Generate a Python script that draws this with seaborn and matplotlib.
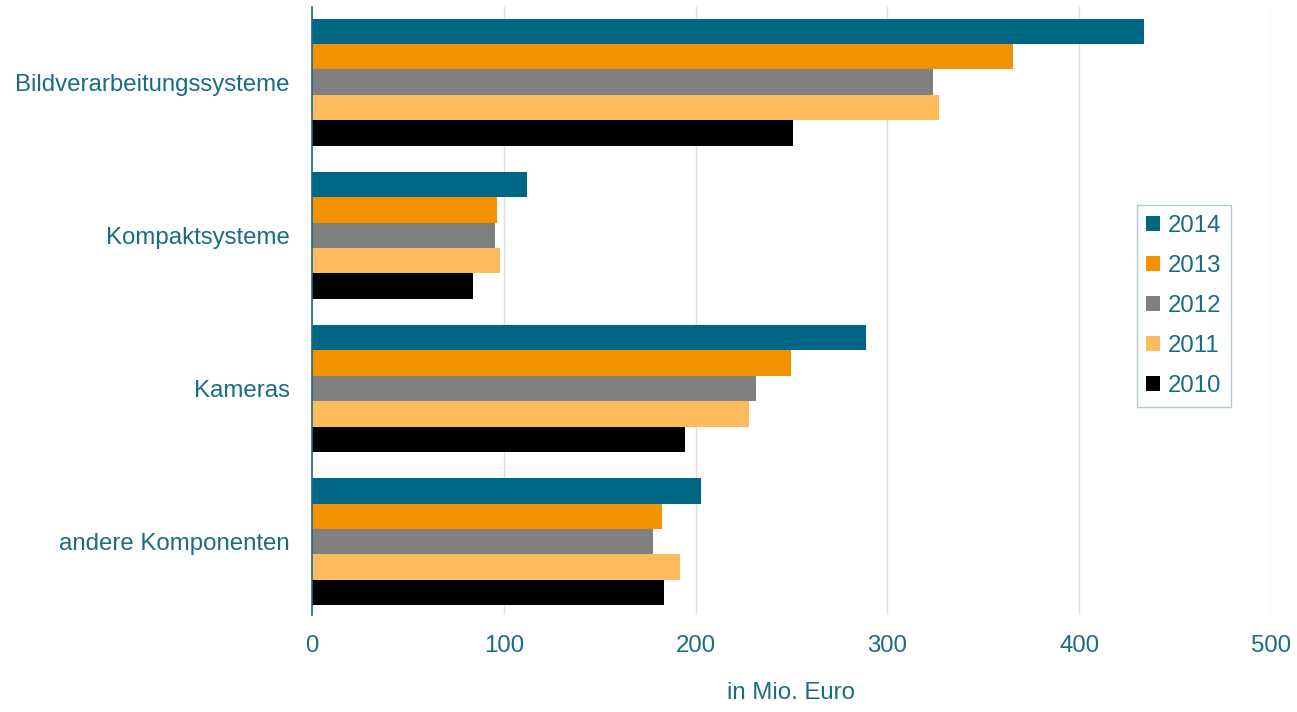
import matplotlib
matplotlib.use("Agg")
import matplotlib.pyplot as plt
import seaborn as sns
import pandas as pd

categories = ["Bildverarbeitungssysteme", "Kompaktsysteme", "Kameras", "andere Komponenten"]
years = ["2014", "2013", "2012", "2011", "2010"]
values = {
    "2014": [434, 112, 289, 203],
    "2013": [365.5, 96.5, 250, 182.5],
    "2012": [324, 95.5, 231.5, 178],
    "2011": [327, 98, 228, 192],
    "2010": [251, 84, 194.5, 183.5],
}
colors = ["#006685", "#f39200", "#808080", "#fdbb5e", "#000000"]
teal = "#1b6b85"

rows = []
for y in years:
    for c, v in zip(categories, values[y]):
        rows.append({"Kategorie": c, "Jahr": y, "Wert": v})
df = pd.DataFrame(rows)

sns.set_style("white")
plt.rcParams["font.family"] = ["Liberation Sans", "DejaVu Sans"]

fig = plt.figure(figsize=(12.97, 7.12), dpi=100)
ax = fig.add_axes([0.2405, 0.136, 0.7395, 0.854])

sns.barplot(data=df, y="Kategorie", x="Wert", hue="Jahr", hue_order=years,
            order=categories, palette=colors, orient="h", width=0.83,
            linewidth=0, saturation=1, ax=ax)

ax.set_xlim(0, 500)
ax.set_ylim(3.48, -0.49)
ax.set_xticks([0, 100, 200, 300, 400, 500])
ax.xaxis.grid(True, color="#dddddd", linewidth=1)
ax.set_axisbelow(True)
for s in ["top", "right", "bottom"]:
    ax.spines[s].set_visible(False)
ax.spines["left"].set_color(teal)
ax.spines["left"].set_linewidth(1.2)
ax.tick_params(axis="both", length=0, labelsize=17.3, labelcolor=teal)
ax.tick_params(axis="x", pad=14)
ax.tick_params(axis="y", pad=16)
ax.set_ylabel("")
ax.set_xlabel("in Mio. Euro", fontsize=17.3, color=teal, labelpad=18)

leg = ax.legend(title=None, loc="upper left", bbox_to_anchor=(0.860, 0.674),
                fontsize=17.3, frameon=True, fancybox=False, edgecolor="#9fbfc8",
                handlelength=0.55, handleheight=0.55, handletextpad=0.35,
                labelspacing=0.75, borderpad=0.4, borderaxespad=0)
for t in leg.get_texts():
    t.set_color(teal)

fig.savefig("out.png", dpi=100)
